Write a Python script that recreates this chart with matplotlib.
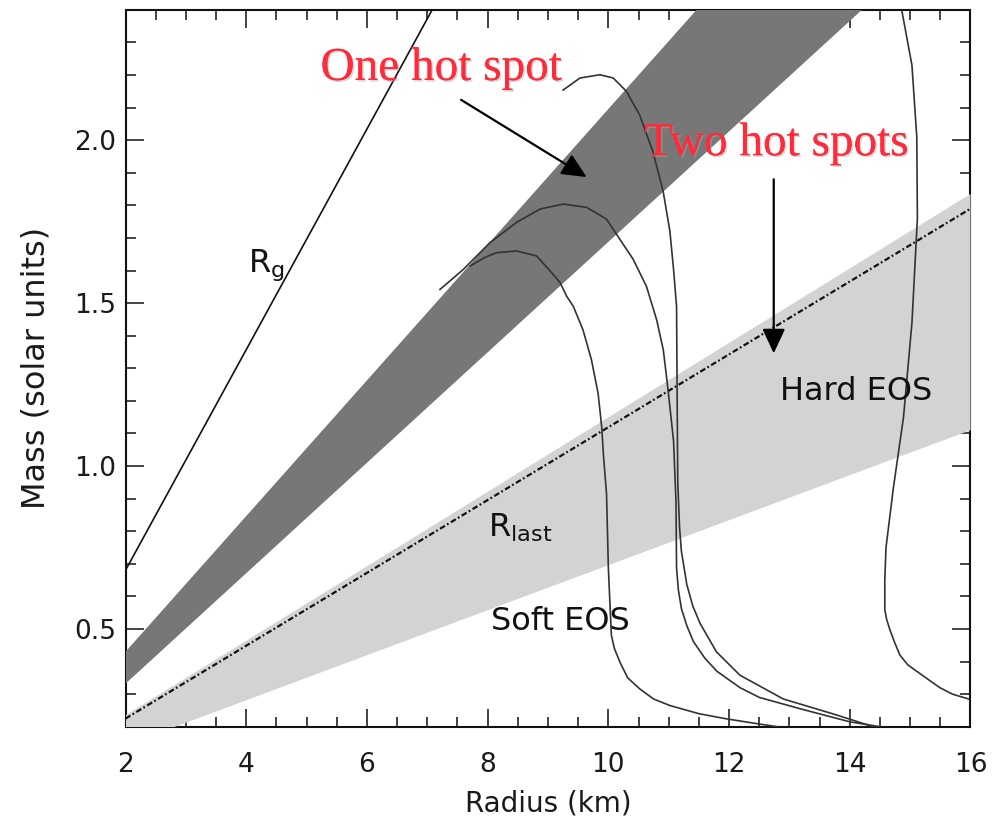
import matplotlib
matplotlib.use("Agg")
import matplotlib.pyplot as plt
import matplotlib.patheffects as pe
from matplotlib.patches import Rectangle
import numpy as np

# ---------------- data ----------------
# Schwarzschild-like line R_g (end points)
rg_R = [2.0, 7.08]
rg_M = [0.68, 2.40]

# R_last dash-dot line (end points)
rlast_R = [2.0, 16.0]
rlast_M = [0.225, 1.79]

# Dark grey band ("One hot spot"): lower and upper edges
dark_lo_R = [2.0, 14.2]
dark_lo_M = [0.332, 2.40]
dark_hi_R = [2.0, 11.46]
dark_hi_M = [0.43, 2.40]

# Light grey band ("Two hot spots"): upper and lower edges
light_hi_R = [2.0, 16.0]
light_hi_M = [0.235, 1.835]
light_lo_R = [2.0, 16.0]
light_lo_M = [0.143, 1.11]

# Mass-radius curves
curveA_R = [7.71, 7.95, 8.15, 8.48, 8.81, 9.03, 9.20, 9.31, 9.42, 9.58, 9.72, 9.83,
            9.89, 9.92, 9.97, 10.00, 10.05, 10.10, 10.19, 10.32, 10.52, 10.75, 11.02,
            11.50, 11.96, 12.51, 12.80]
curveA_M = [1.614, 1.640, 1.655, 1.660, 1.645, 1.600, 1.563, 1.521, 1.490, 1.418, 1.326,
            1.223, 1.120, 1.030, 0.914, 0.687, 0.481, 0.440, 0.399, 0.350, 0.316, 0.285,
            0.265, 0.240, 0.224, 0.208, 0.200]

curveB_R = [7.21, 7.60, 8.04, 8.48, 8.87, 9.25, 9.64, 9.97, 10.19, 10.41, 10.63, 10.80,
            10.91, 10.97, 11.02, 11.08, 11.12, 11.13, 11.16, 11.21, 11.30, 11.41, 11.60,
            11.80, 12.18, 12.50, 13.18, 14.00, 14.50]
curveB_M = [1.542, 1.604, 1.686, 1.748, 1.789, 1.804, 1.794, 1.758, 1.696, 1.635, 1.552,
            1.449, 1.357, 1.264, 1.181, 1.078, 0.893, 0.687, 0.620, 0.563, 0.510, 0.461,
            0.410, 0.370, 0.320, 0.290, 0.255, 0.215, 0.200]

curveC_R = [9.25, 9.53, 9.86, 10.08, 10.30, 10.52, 10.74, 10.91, 11.02, 11.08, 11.13,
            11.14, 11.15, 11.18, 11.21, 11.30, 11.40, 11.52, 11.79, 12.18, 12.90, 13.73,
            14.39]
curveC_M = [2.154, 2.191, 2.201, 2.191, 2.150, 2.077, 1.964, 1.841, 1.720, 1.604, 1.490,
            1.200, 0.950, 0.810, 0.739, 0.636, 0.570, 0.517, 0.430, 0.358, 0.285, 0.239,
            0.200]

curveD_R = [14.86, 15.03, 15.11, 15.12, 15.03, 14.89, 14.72, 14.60, 14.58, 14.58,
            14.61, 14.66, 14.74, 14.83, 14.96, 15.11, 15.30, 15.49, 15.70, 15.88, 15.97]
curveD_M = [2.40, 2.23, 2.01, 1.76, 1.44, 1.15, 0.93, 0.75, 0.65, 0.56,
            0.53, 0.50, 0.46, 0.42, 0.39, 0.37, 0.345, 0.32, 0.30, 0.29, 0.285]

x_major = [2, 4, 6, 8, 10, 12, 14, 16]
y_major = [0.5, 1.0, 1.5, 2.0]

# ---------------- figure ----------------
fig = plt.figure(figsize=(10, 8.26), dpi=100)
ax = fig.add_axes([0.1255, 0.1202, 0.845, 0.8678])
ax.set_xlim(2, 16)
ax.set_ylim(0.2, 2.4)

# bands (drawn above the inward ticks, as in the reference)
light = ax.fill(light_hi_R + light_lo_R[::-1], light_hi_M + light_lo_M[::-1],
                color='#d3d3d3', lw=0, zorder=2.6)[0]
clip_rect = Rectangle((0, 0), 1.004, 1, transform=ax.transAxes, visible=False)
ax.add_patch(clip_rect)
light.set_clip_path(clip_rect)
ax.fill(dark_lo_R + dark_hi_R[::-1], dark_lo_M + dark_hi_M[::-1],
        color='#777777', lw=0, zorder=2.6)

# lines
ax.plot(rg_R, rg_M, color='#111111', lw=1.2, zorder=4)
ax.plot(rlast_R, rlast_M, color='#111111', lw=1.6,
        linestyle=(0, (2.6, 1.1, 0.8, 1.2)), zorder=4)
for R, M in [(curveA_R, curveA_M), (curveB_R, curveB_M),
             (curveC_R, curveC_M), (curveD_R, curveD_M)]:
    ax.plot(R, M, color='#333333', lw=1.2, zorder=4, solid_joinstyle='round')

# text labels
lab_kw = dict(fontsize=23, color='#111111', family='DejaVu Sans', zorder=5)
ax.text(4.03, 1.597, r'$\mathregular{R_g}$', ha='left', va='baseline', **lab_kw)
ax.text(8.0, 0.785, r'$\mathregular{R_{last}}$', ha='left', va='baseline', **lab_kw)
ax.text(9.20, 0.497, 'Soft EOS', ha='center', va='baseline', **lab_kw)
ax.text(14.11, 1.202, 'Hard EOS', ha='center', va='baseline', **lab_kw)

red_kw = dict(fontsize=34, color='#ff2a3a', family='Liberation Serif', zorder=6,
              path_effects=[pe.withSimplePatchShadow(offset=(1.2, -1.2),
                                                     shadow_rgbFace='#aaaaaa',
                                                     alpha=0.45),
                            pe.Normal()])
ax.text(7.235, 2.185, 'One hot spot', ha='center', va='baseline', **red_kw)
ax.text(12.79, 1.954, 'Two hot spots', ha='center', va='baseline', **red_kw)

arrow_kw = dict(arrowstyle='-|>,head_length=0.75,head_width=0.35',
                color='black', lw=1.6, mutation_scale=20, shrinkA=0, shrinkB=0)
ax.annotate('', xy=(9.64, 1.887), xytext=(7.56, 2.124),
            arrowprops=arrow_kw, zorder=6)
ax.annotate('', xy=(12.74, 1.346), xytext=(12.74, 1.88),
            arrowprops=arrow_kw, zorder=6)

# axes styling
ax.set_xticks(x_major)
ax.set_xticks(np.arange(2, 16.01, 0.5), minor=True)
ax.set_yticks(y_major)
ax.set_yticks(np.arange(0.2, 2.401, 0.1), minor=True)
ax.set_yticklabels([f'{v:.1f}' for v in y_major])
ax.tick_params(which='both', direction='in', top=True, right=True,
               width=1.1, color='#111111', labelsize=19, labelcolor='#1a1a1a')
ax.tick_params(which='major', length=13)
ax.tick_params(which='minor', length=7.5)
ax.tick_params(axis='x', which='major', pad=18)
ax.tick_params(axis='y', which='major', pad=7)
for s in ax.spines.values():
    s.set_linewidth(1.5)
    s.set_color('#111111')

ax.set_xlabel('Radius (km)', fontsize=20, color='#1a1a1a')
ax.set_ylabel('Mass (solar units)', fontsize=23, color='#1a1a1a')
ax.xaxis.set_label_coords(0.5, -0.088)
ax.yaxis.set_label_coords(-0.087, 0.5)

fig.savefig('out.png', dpi=100)
